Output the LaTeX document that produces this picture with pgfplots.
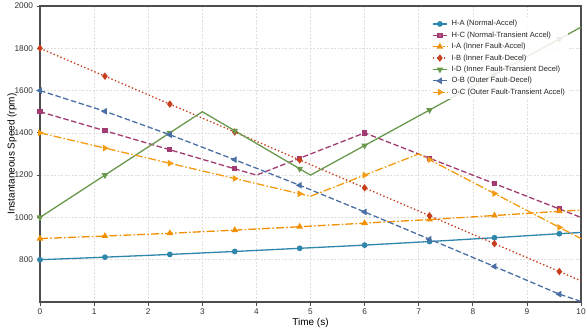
\documentclass[border=0pt]{standalone}
\usepackage{fontspec}
\setmainfont{Liberation Sans}
\usepackage{pgfplots}
\pgfplotsset{compat=1.18}

\definecolor{cHA}{HTML}{2E86AB}
\definecolor{cHC}{HTML}{A23B72}
\definecolor{cIA}{HTML}{F18F01}
\definecolor{cIB}{HTML}{C73E1D}
\definecolor{cID}{HTML}{6A994E}
\definecolor{cOB}{HTML}{4A6FA5}
\definecolor{cOC}{HTML}{F39C12}
\definecolor{frame}{HTML}{4D4D4D}

\begin{document}
\begin{tikzpicture}
\path[use as bounding box] (-40bp,-28bp) rectangle (547bp,302bp);
\begin{axis}[
  scale only axis, width=541bp, height=296bp,
  xmin=0, xmax=10, ymin=600, ymax=2000,
  xtick={0,1,...,10}, ytick={800,1000,...,2000},
  axis line style={frame, line width=1.1bp},
  tick style={frame, line width=0.8bp},
  tick align=outside, major tick length=3.5bp,
  xtick pos=bottom, ytick pos=left,
  grid=major,
  grid style={gray!25, line width=0.5bp, dash pattern=on 2bp off 1.5bp},
  /pgf/number format/assume math mode=true,
  /pgf/number format/1000 sep={},
  ticklabel style={font=\fontsize{8.3}{10}\selectfont, text=black!80},
  xlabel={Time (s)}, ylabel={Instantaneous Speed (rpm)},
  label style={font=\fontsize{9.6}{11}\selectfont\bfseries},
  every axis x label/.style={at={(axis description cs:0.5,0)}, yshift=-21bp, anchor=center},
  every axis y label/.style={at={(axis description cs:0,0.5)}, xshift=-28bp, rotate=90, anchor=center},
  every axis plot/.append style={line width=1.3bp},
  legend cell align=left,
  legend style={at={(rel axis cs:0.721,0.962)}, anchor=north west,
    draw=none, fill=white, fill opacity=0.85, text opacity=1,
    font=\fontsize{7.6}{8.5}\selectfont, text=black!85,
    inner sep=2bp, row sep=2.4bp, column sep=3bp,
    nodes={inner sep=1bp}},
  legend image code/.code={\draw[mark indices={2}] plot coordinates {(0bp,0bp) (7bp,0bp) (14bp,0bp)};},
]
% healthy bearing, steady acceleration
\addplot[cHA, solid, mark=*, mark size=2.2bp, mark indices={1,2,3,4,5,6,7,8,9}]
  coordinates {(0,800) (1.2,812) (2.4,825) (3.6,839) (4.8,854) (6,869) (7.2,886) (8.4,904) (9.6,923) (10,929)};
\addlegendentry{H-A (Normal-Accel)}
% healthy bearing, transient
\addplot[cHC, dash pattern=on 5.5bp off 2.6bp, mark=square*, mark size=2bp, mark options={solid}, mark indices={1,2,3,4,6,7,8,9,10}]
  coordinates {(0,1500) (1.2,1410) (2.4,1320) (3.6,1230) (4,1200) (4.8,1280) (6,1400) (7.2,1280) (8.4,1160) (9.6,1040) (10,1000)};
\addlegendentry{H-C (Normal-Transient Accel)}
% inner race fault, acceleration
\addplot[cIA, dash pattern=on 8bp off 2.2bp on 1.5bp off 2.2bp, mark=triangle*, mark size=2.6bp, mark options={solid}, mark indices={1,2,3,4,5,6,7,8,9}]
  coordinates {(0,900) (1.2,912) (2.4,925) (3.6,940) (4.8,956) (6,973) (7.2,990) (8.4,1009) (9.6,1029) (10,1035)};
\addlegendentry{I-A (Inner Fault-Accel)}
% inner race fault, deceleration
\addplot[cIB, dash pattern=on 1.4bp off 2.3bp, mark=diamond*, mark size=2.7bp, mark options={solid}, mark indices={1,2,3,4,5,6,7,8,9}]
  coordinates {(0,1800) (1.2,1668) (2.4,1536) (3.6,1404) (4.8,1272) (6,1140) (7.2,1008) (8.4,876) (9.6,744) (10,700)};
\addlegendentry{I-B (Inner Fault-Decel)}
% inner race fault, transient
\addplot[cID, solid, mark=triangle*, mark size=2.6bp, mark options={rotate=180}, mark indices={1,2,3,5,6,8,9,10,11}]
  coordinates {(0,1000) (1.2,1200) (2.4,1400) (3,1500) (3.6,1410) (4.8,1230) (5,1200) (6,1340) (7.2,1508) (8.4,1676) (9.6,1844) (10,1900)};
\addlegendentry{I-D (Inner Fault-Transient Decel)}
% outer race fault, deceleration
\addplot[cOB, dash pattern=on 5.5bp off 2.6bp, mark=triangle*, mark size=2.6bp, mark options={solid, rotate=90}, mark indices={1,2,3,4,5,6,7,8,9}]
  coordinates {(0,1600) (1.2,1502) (2.4,1391) (3.6,1273) (4.8,1152) (6,1026) (7.2,897) (8.4,768) (9.6,637) (10,603)};
\addlegendentry{O-B (Outer Fault-Decel)}
% outer race fault, transient
\addplot[cOC, dash pattern=on 8bp off 2.2bp on 1.5bp off 2.2bp, mark=triangle*, mark size=2.6bp, mark options={solid, rotate=-90}, mark indices={1,2,3,4,5,7,9,10,11}]
  coordinates {(0,1400) (1.2,1328) (2.4,1256) (3.6,1184) (4.8,1112) (5,1100) (6,1200) (7,1300) (7.2,1273) (8.4,1113) (9.6,953) (10,900)};
\addlegendentry{O-C (Outer Fault-Transient Accel)}
\end{axis}
\end{tikzpicture}
\end{document}
